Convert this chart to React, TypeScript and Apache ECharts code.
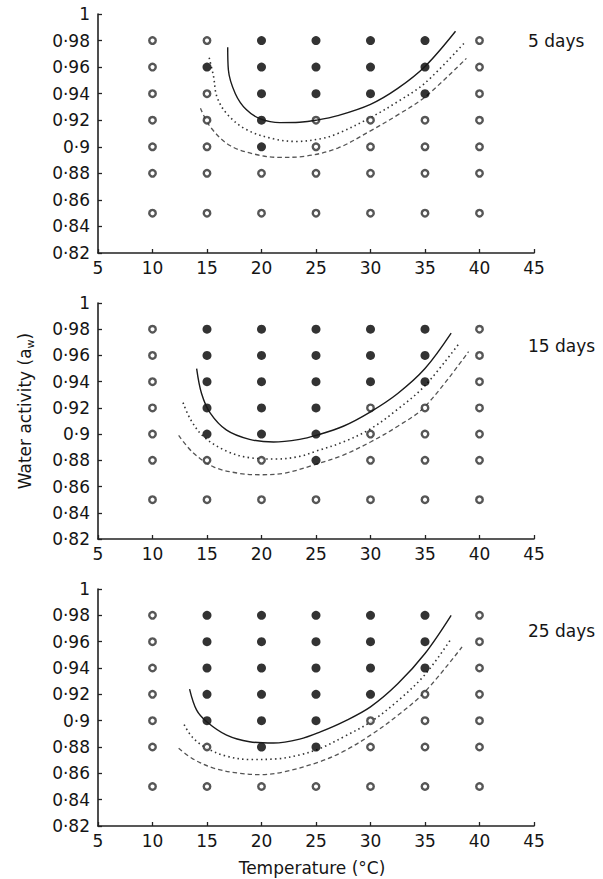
import React, { useEffect, useRef } from "react";
import * as echarts from "echarts";

// Sampled conditions
const temperatures = [10, 15, 20, 25, 30, 35, 40];
const waterActivityLevels = [0.85, 0.88, 0.9, 0.92, 0.94, 0.96, 0.98];

// Growth (1) / no growth (0), one row per temperature, columns follow waterActivityLevels
const growthDay5 = [
  [0, 0, 0, 0, 0, 0, 0],
  [0, 0, 0, 0, 0, 1, 0],
  [0, 0, 1, 1, 1, 1, 1],
  [0, 0, 0, 0, 1, 1, 1],
  [0, 0, 0, 0, 1, 1, 1],
  [0, 0, 0, 0, 1, 1, 1],
  [0, 0, 0, 0, 0, 0, 0],
];
const growthDay15 = [
  [0, 0, 0, 0, 0, 0, 0],
  [0, 0, 1, 1, 1, 1, 1],
  [0, 0, 1, 1, 1, 1, 1],
  [0, 1, 1, 1, 1, 1, 1],
  [0, 0, 0, 0, 1, 1, 1],
  [0, 0, 0, 0, 1, 1, 1],
  [0, 0, 0, 0, 0, 0, 0],
];
const growthDay25 = [
  [0, 0, 0, 0, 0, 0, 0],
  [0, 0, 1, 1, 1, 1, 1],
  [0, 1, 1, 1, 1, 1, 1],
  [0, 1, 1, 1, 1, 1, 1],
  [0, 0, 0, 1, 1, 1, 1],
  [0, 0, 0, 0, 1, 1, 1],
  [0, 0, 0, 0, 0, 0, 0],
];

// Growth/no-growth boundary curves [temperature, aw]
const solidDay5 = [[16.9, 0.975], [16.96, 0.958], [17.6, 0.94], [18.6, 0.928], [19.9, 0.921], [21.7, 0.9182], [23.5, 0.9185], [25, 0.92], [27, 0.9235], [30, 0.932], [32.5, 0.944], [35, 0.9605], [37.8, 0.987]];
const dottedDay5 = [[15.2, 0.967], [15.6, 0.953], [15.9, 0.938], [16.8, 0.925], [18.6, 0.913], [21.1, 0.906], [23.2, 0.904], [25.4, 0.906], [27, 0.91], [30, 0.922], [32.5, 0.934], [35, 0.948], [38.7, 0.979]];
const dashedDay5 = [[14.4, 0.929], [15.3, 0.915], [17.1, 0.901], [19.6, 0.894], [21.7, 0.892], [24.1, 0.893], [27, 0.899], [30, 0.912], [32.5, 0.924], [35, 0.9375], [38.8, 0.9666]];

const solidDay15 = [[14.05, 0.95], [14.5, 0.931], [15.3, 0.916], [16.8, 0.903], [18.9, 0.896], [21.1, 0.894], [23.5, 0.896], [25, 0.899], [27.5, 0.906], [30, 0.917], [32.5, 0.931], [35, 0.95], [37.4, 0.977]];
const dottedDay15 = [[12.8, 0.924], [13.5, 0.911], [14.7, 0.898], [16.8, 0.887], [18.9, 0.882], [21.4, 0.881], [23.5, 0.883], [25, 0.887], [27.5, 0.894], [30, 0.904], [32.5, 0.919], [35, 0.937], [38.2, 0.97]];
const dashedDay15 = [[12.4, 0.899], [13.7, 0.886], [15.6, 0.875], [18, 0.87], [19.9, 0.869], [22, 0.87], [25, 0.877], [27.5, 0.884], [30, 0.894], [32.5, 0.906], [35, 0.921], [39, 0.963]];

const solidDay25 = [[13.4, 0.924], [14.05, 0.908], [15, 0.899], [16.8, 0.889], [18.9, 0.884], [21.1, 0.883], [23.5, 0.886], [25.4, 0.8915], [27.6, 0.8995], [30, 0.9105], [32.5, 0.928], [35, 0.951], [37.4, 0.98]];
const dottedDay25 = [[12.9, 0.897], [13.7, 0.887], [15, 0.879], [16.8, 0.873], [18.9, 0.8705], [21.4, 0.871], [23.5, 0.874], [25.4, 0.879], [27.6, 0.888], [30, 0.899], [32.5, 0.915], [35, 0.935], [37.3, 0.961]];
const dashedDay25 = [[12.4, 0.879], [13.7, 0.871], [15.6, 0.864], [18, 0.86], [19.9, 0.859], [22, 0.861], [25.4, 0.869], [27.6, 0.877], [30, 0.889], [32.5, 0.904], [35, 0.922], [38.4, 0.956]];

const dayLabels = ["5 days", "15 days", "25 days"];
const xAxisTitle = "Temperature (°C)";

const FONT = "'DejaVu Sans', sans-serif";
const TEXT = "#151515";

const panels = [
  { growth: growthDay5, solid: solidDay5, dotted: dottedDay5, dashed: dashedDay5 },
  { growth: growthDay15, solid: solidDay15, dotted: dottedDay15, dashed: dashedDay15 },
  { growth: growthDay25, solid: solidDay25, dotted: dottedDay25, dashed: dashedDay25 },
];

const grids = [
  { left: 98, top: 14, width: 436, height: 239 },
  { left: 98, top: 303, width: 436, height: 236 },
  { left: 98, top: 589, width: 436, height: 237 },
];
const dayLabelTops = [42, 347, 632];

function pointsFor(growth: number[][], flag: number) {
  const out: number[][] = [];
  temperatures.forEach((t, i) => {
    waterActivityLevels.forEach((aw, j) => {
      if (growth[i][j] === flag) out.push([t, aw]);
    });
  });
  return out;
}

const awFormatter = (v: number) =>
  String(parseFloat(v.toFixed(2))).replace(".", "·");

export default function App() {
  const ref = useRef<HTMLDivElement>(null);
  useEffect(() => {
    if (!ref.current) return;
    const chart = echarts.init(ref.current, undefined, { renderer: "svg" });

    const axisLine = { show: true, lineStyle: { color: "#222", width: 1.6 } };
    const axisTick = { show: true, inside: true, length: 4, lineStyle: { color: "#222", width: 1.3 } };
    const axisLabelBase = { color: TEXT, fontFamily: FONT, fontSize: 17 };

    const xAxis = grids.map((_, i) => ({
      type: "value",
      gridIndex: i,
      min: 5,
      max: 45,
      interval: 5,
      axisLine,
      axisTick,
      splitLine: { show: false },
      axisLabel: { ...axisLabelBase, margin: 6 },
    }));
    const yAxis = grids.map((_, i) => ({
      type: "value",
      gridIndex: i,
      min: 0.82,
      max: 1,
      interval: 0.02,
      axisLine,
      axisTick,
      splitLine: { show: false },
      axisLabel: { ...axisLabelBase, margin: 8, formatter: awFormatter },
    }));

    const curve = (i: number, data: number[][], lineStyle: any, z: number) => ({
      type: "line",
      xAxisIndex: i,
      yAxisIndex: i,
      data,
      smooth: 0.35,
      showSymbol: false,
      lineStyle,
      z,
    });

    const series: any[] = [];
    panels.forEach((p, i) => {
      series.push(curve(i, p.dashed, { color: "#555", width: 1.3, type: [4.5, 3] }, 2));
      series.push(curve(i, p.dotted, { color: "#333", width: 1.6, type: [1.5, 3.2] }, 2));
      series.push({
        type: "scatter",
        xAxisIndex: i,
        yAxisIndex: i,
        data: pointsFor(p.growth, 0),
        symbol: "circle",
        symbolSize: 6.5,
        itemStyle: { color: "#fff", borderColor: "#2c2c2c", borderWidth: 2.4 },
        z: 3,
      });
      series.push({
        type: "scatter",
        xAxisIndex: i,
        yAxisIndex: i,
        data: pointsFor(p.growth, 1),
        symbol: "circle",
        symbolSize: 9,
        itemStyle: { color: "#000" },
        z: 3,
      });
      series.push(curve(i, p.solid, { color: "#1a1a1a", width: 1.4 }, 4));
    });

    const graphic: any[] = dayLabels.map((label, i) => ({
      type: "text",
      left: 528,
      top: dayLabelTops[i] - 10,
      style: { text: label, fill: TEXT, font: `17px ${FONT}` },
    }));
    graphic.push({
      type: "text",
      x: 312,
      y: 868,
      style: {
        text: xAxisTitle,
        fill: TEXT,
        font: `17px ${FONT}`,
        align: "center",
        verticalAlign: "middle",
      },
    });
    graphic.push({
      type: "text",
      x: 25,
      y: 411,
      rotation: Math.PI / 2,
      style: {
        text: "Water activity (a{sub|w})",
        fill: TEXT,
        font: `17px ${FONT}`,
        align: "center",
        verticalAlign: "middle",
        rich: {
          sub: { fontSize: 11, fontFamily: FONT, fill: TEXT, padding: [10, 0, 0, 0] },
        },
      },
    });

    chart.setOption({
      animation: false,
      backgroundColor: "#fff",
      grid: grids.map((g) => ({ ...g, containLabel: false })),
      xAxis,
      yAxis,
      series,
      graphic,
    });
    return () => chart.dispose();
  }, []);

  return (
    <div
      ref={ref}
      style={{ position: "absolute", left: 0, top: 0, width: 603, height: 879 }}
    />
  );
}
